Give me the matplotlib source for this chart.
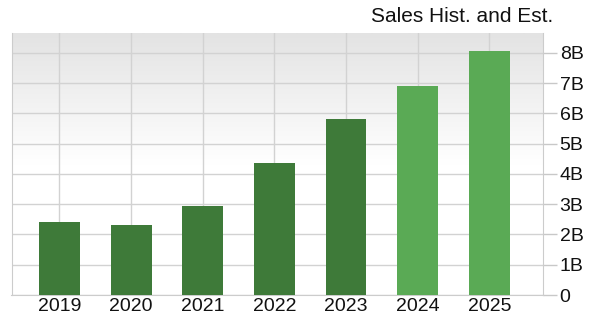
import numpy as np
import matplotlib
matplotlib.use('Agg')
import matplotlib.pyplot as plt

font = {'family': 'Liberation Sans', 'weight': 'normal', 'size': 14}
matplotlib.rc('font', **font)

# data
years = ['2019', '2020', '2021', '2022', '2023', '2024', '2025']
sales_b = [2.40, 2.31, 2.94, 4.37, 5.83, 6.91, 8.08]
is_estimate = [False, False, False, False, False, True, True]
ytick_vals = [0, 1, 2, 3, 4, 5, 6, 7, 8]
ytick_labels = ['0', '1B', '2B', '3B', '4B', '5B', '6B', '7B', '8B']

# colours
hist_col = '#3e7a39'
est_col = '#5aaa55'
grid_col = '#d2d2d2'

fig = plt.figure(figsize=(5.98, 3.23), dpi=100, facecolor='white')
W, H = 598., 323.
ax = fig.add_axes([11.5 / W, 28. / H, (543. - 11.5) / W, (295. - 33.) / H])

x = np.arange(len(years))
cols = [est_col if e else hist_col for e in is_estimate]
ax.bar(x, sales_b, width=0.57, color=cols, zorder=3, linewidth=0)

ax.set_xlim(-0.67, len(years) - 1 + 0.75)
ax.set_ylim(0, 8.66)

# gradient background
grad = np.linspace(0, 1, 256).reshape(-1, 1)
ax.imshow(grad, extent=[-0.67, len(years) - 1 + 0.75, 0, 8.66], aspect='auto',
          cmap=matplotlib.colors.LinearSegmentedColormap.from_list(
              'bg', ['#ffffff', '#ffffff', '#e3e3e3']),
          origin='lower', zorder=0, interpolation='bilinear')

ax.set_xticks(x)
ax.set_xticklabels(years)
ax.set_yticks(ytick_vals)
ax.set_yticklabels(ytick_labels)
ax.yaxis.tick_right()
ax.tick_params(axis='x', length=0, pad=2, labelcolor='#111111')
ax.tick_params(axis='y', length=10, width=1, color='#c8c8c8', pad=2,
               labelcolor='#111111')
ax.grid(True, color=grid_col, linewidth=1, zorder=1)
ax.set_axisbelow(True)
for s in ['left', 'bottom', 'right']:
    ax.spines[s].set_color('#cccccc')
ax.spines['top'].set_visible(False)

fig.text(553. / W, 1 - 17. / H, 'Sales Hist. and Est.', ha='right', va='center',
         fontsize=15, color='#111111')

plt.savefig('out.png', dpi=100, facecolor='white')
plt.close()
